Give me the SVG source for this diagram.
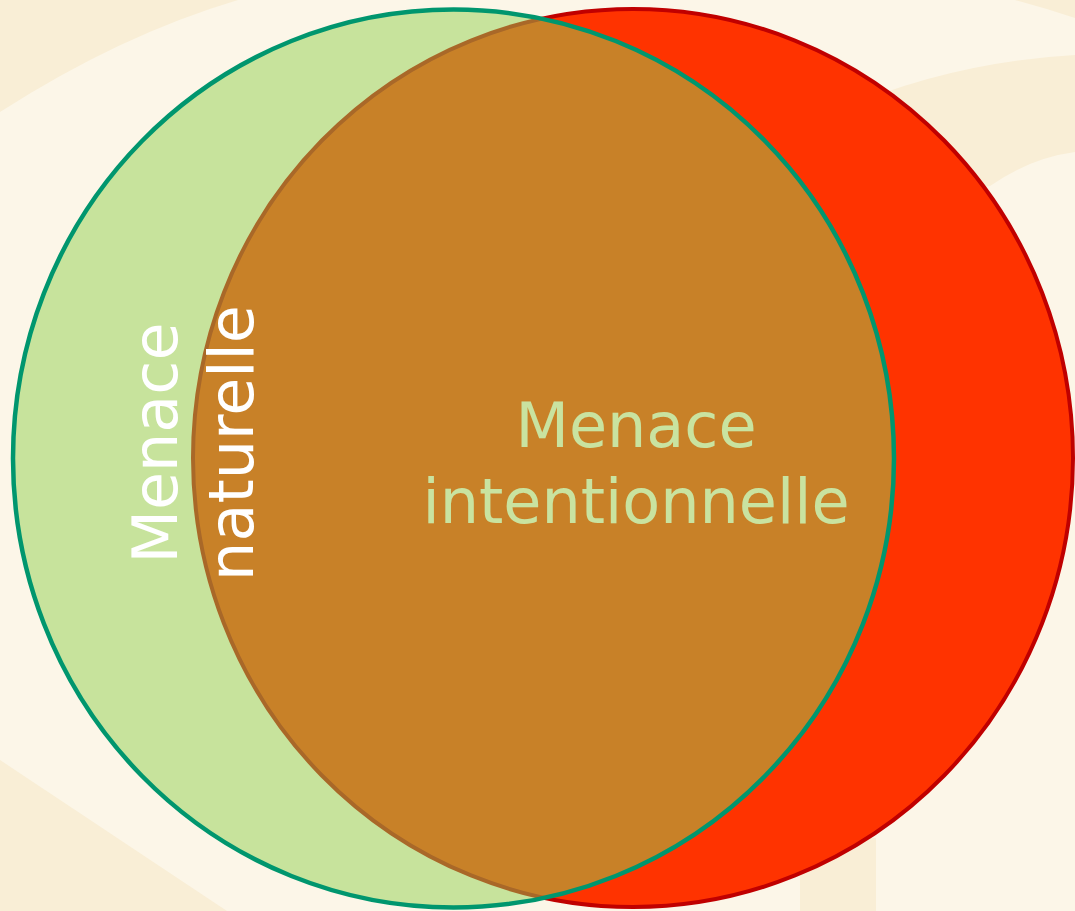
<svg xmlns="http://www.w3.org/2000/svg" width="1075" height="911" viewBox="0 0 1075 911">
  <style>
    .bgdark { fill: #F9EED6; }
    .lbl { font-family: "DejaVu Sans", "Liberation Sans", sans-serif; font-size: 62px; text-anchor: middle; }
    .white { fill: #FFFFFF; }
    .lgreen { fill: #C9E3A0; }
  </style>
  <g id="background">
    <rect x="0" y="0" width="1075" height="911" fill="#FCF6E8"/>
    <path class="bgdark" d="M0,0 L238,0 Q120,35 0,112 Z"/>
    <path class="bgdark" d="M1015,0 L1075,0 L1075,18 Q1045,8 1015,0 Z"/>
    <path class="bgdark" d="M840,110 Q950,62 1075,55 L1075,152 Q1030,158 990,186 Q920,200 860,190 Z"/>
    <path class="bgdark" d="M0,760 L227,911 L0,911 Z"/>
    <rect class="bgdark" x="800" y="838" width="76" height="73"/>
  </g>
  <g id="node-intentionnelle">
    <ellipse cx="633" cy="458" rx="440" ry="449" fill="#FF3300" stroke="#C00000" stroke-width="4"/>
  </g>
  <g id="node-naturelle">
    <ellipse cx="453.5" cy="458.5" rx="440.5" ry="449" fill="#92D050" fill-opacity="0.5"/>
    <ellipse cx="453.5" cy="458.5" rx="440.5" ry="449" fill="none" stroke="#00966E" stroke-width="4.5"/>
  </g>
  <g id="connectors"/>
  <g id="labels">
    <text class="lbl white" transform="translate(177,443) rotate(-90)">Menace</text>
    <text class="lbl white" transform="translate(253,443) rotate(-90)">naturelle</text>
    <text class="lbl lgreen" x="636" y="447">Menace</text>
    <text class="lbl lgreen" x="636" y="523">intentionnelle</text>
  </g>
</svg>
